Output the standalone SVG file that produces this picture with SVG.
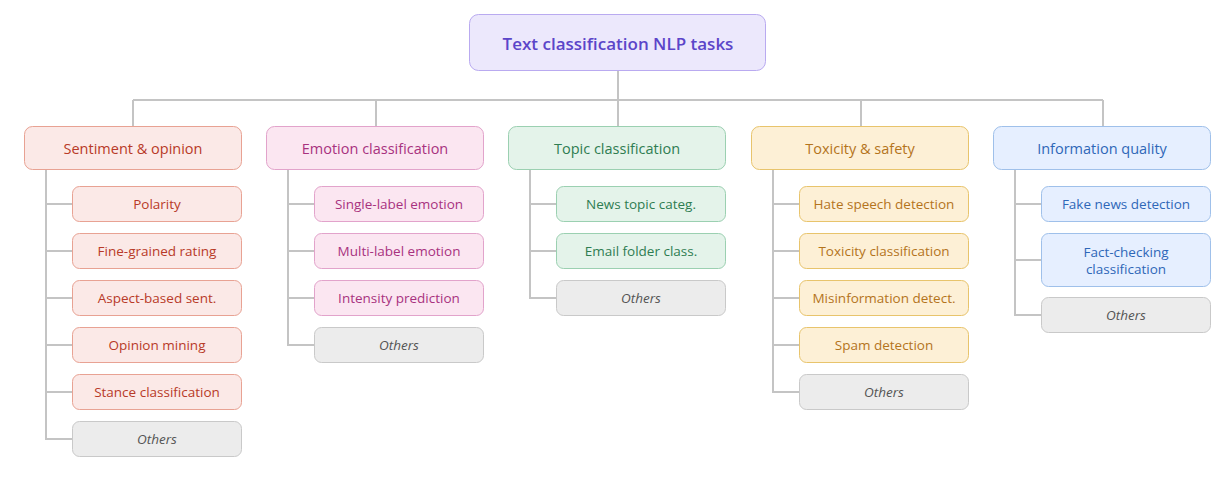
<svg xmlns="http://www.w3.org/2000/svg" width="1228" height="490" viewBox="0 0 1228 490">
<style>
text{font-family:"Open Sans","Noto Sans",sans-serif;text-anchor:middle;dominant-baseline:central}
.ln{fill:none;stroke:#c4c4c4;stroke-width:2}
.c{font-size:14.5px}.k{font-size:13.5px}
.s rect{fill:#fbe9e7;stroke:#e8a293}.s text{fill:#b83a28}
.e rect{fill:#fbe6f1;stroke:#e2a3cb}.e text{fill:#a8327f}
.t rect{fill:#e4f3ea;stroke:#9bd0b1}.t text{fill:#2f7d52}
.x rect{fill:#fdf0d6;stroke:#e8c46c}.x text{fill:#b4741c}
.i rect{fill:#e6efff;stroke:#9fc0ea}.i text{fill:#2f67b8}
.o rect{fill:#ececec;stroke:#c9c9c9}.o text{fill:#555;font-style:italic}
</style>
<g id="connectors" class="ln">
<path d="M618 71V100M133 100H1103M133 100V126M376 100V126M618 100V126M861 100V126M1103 100V126"/>
<path d="M46 169V440M46 204H72M46 251H72M46 298H72M46 345H72M46 392H72M46 439H72"/>
<path d="M288 169V346M288 204H314M288 251H314M288 298H314M288 345H314"/>
<path d="M530 169V299M530 204H556M530 251H556M530 298H556"/>
<path d="M773 169V393M773 204H799M773 251H799M773 298H799M773 345H799M773 392H799"/>
<path d="M1015 169V316M1015 204H1041M1015 260H1041M1015 315H1041"/>
</g>
<g id="root"><rect x="469.5" y="14.5" width="296" height="56" rx="9" fill="#ece8fc" stroke="#b9aaf0"/><text x="618" y="43" font-size="17" font-weight="600" fill="#5b45c9">Text classification NLP tasks</text></g>
<g id="sentiment" class="s"><rect x="24.5" y="126.5" width="217" height="43" rx="8"/><text class="c" x="133" y="148">Sentiment &amp; opinion</text></g>
<g id="polarity" class="s"><rect x="72.5" y="186.5" width="169" height="35" rx="7"/><text class="k" x="157" y="204">Polarity</text></g>
<g id="fine" class="s"><rect x="72.5" y="233.5" width="169" height="35" rx="7"/><text class="k" x="157" y="251">Fine-grained rating</text></g>
<g id="aspect" class="s"><rect x="72.5" y="280.5" width="169" height="35" rx="7"/><text class="k" x="157" y="298">Aspect-based sent.</text></g>
<g id="opinion" class="s"><rect x="72.5" y="327.5" width="169" height="35" rx="7"/><text class="k" x="157" y="345">Opinion mining</text></g>
<g id="stance" class="s"><rect x="72.5" y="374.5" width="169" height="35" rx="7"/><text class="k" x="157" y="392">Stance classification</text></g>
<g id="s-others" class="o"><rect x="72.5" y="421.5" width="169" height="35" rx="7"/><text class="k" x="157" y="439">Others</text></g>
<g id="emotion" class="e"><rect x="266.5" y="126.5" width="217" height="43" rx="8"/><text class="c" x="375" y="148">Emotion classification</text></g>
<g id="single" class="e"><rect x="314.5" y="186.5" width="169" height="35" rx="7"/><text class="k" x="399" y="204">Single-label emotion</text></g>
<g id="multi" class="e"><rect x="314.5" y="233.5" width="169" height="35" rx="7"/><text class="k" x="399" y="251">Multi-label emotion</text></g>
<g id="intensity" class="e"><rect x="314.5" y="280.5" width="169" height="35" rx="7"/><text class="k" x="399" y="298">Intensity prediction</text></g>
<g id="e-others" class="o"><rect x="314.5" y="327.5" width="169" height="35" rx="7"/><text class="k" x="399" y="345">Others</text></g>
<g id="topic" class="t"><rect x="508.5" y="126.5" width="217" height="43" rx="8"/><text class="c" x="617" y="148">Topic classification</text></g>
<g id="news" class="t"><rect x="556.5" y="186.5" width="169" height="35" rx="7"/><text class="k" x="641" y="204">News topic categ.</text></g>
<g id="email" class="t"><rect x="556.5" y="233.5" width="169" height="35" rx="7"/><text class="k" x="641" y="251">Email folder class.</text></g>
<g id="t-others" class="o"><rect x="556.5" y="280.5" width="169" height="35" rx="7"/><text class="k" x="641" y="298">Others</text></g>
<g id="toxicity" class="x"><rect x="751.5" y="126.5" width="217" height="43" rx="8"/><text class="c" x="860" y="148">Toxicity &amp; safety</text></g>
<g id="hate" class="x"><rect x="799.5" y="186.5" width="169" height="35" rx="7"/><text class="k" x="884" y="204">Hate speech detection</text></g>
<g id="toxcls" class="x"><rect x="799.5" y="233.5" width="169" height="35" rx="7"/><text class="k" x="884" y="251">Toxicity classification</text></g>
<g id="misinfo" class="x"><rect x="799.5" y="280.5" width="169" height="35" rx="7"/><text class="k" x="884" y="298">Misinformation detect.</text></g>
<g id="spam" class="x"><rect x="799.5" y="327.5" width="169" height="35" rx="7"/><text class="k" x="884" y="345">Spam detection</text></g>
<g id="x-others" class="o"><rect x="799.5" y="374.5" width="169" height="35" rx="7"/><text class="k" x="884" y="392">Others</text></g>
<g id="info" class="i"><rect x="993.5" y="126.5" width="217" height="43" rx="8"/><text class="c" x="1102" y="148">Information quality</text></g>
<g id="fake" class="i"><rect x="1041.5" y="186.5" width="169" height="35" rx="7"/><text class="k" x="1126" y="204">Fake news detection</text></g>
<g id="fact" class="i"><rect x="1041.5" y="233.5" width="169" height="53" rx="7"/><text class="k" x="1126" y="252">Fact-checking</text><text class="k" x="1126" y="269">classification</text></g>
<g id="i-others" class="o"><rect x="1041.5" y="297.5" width="169" height="35" rx="7"/><text class="k" x="1126" y="315">Others</text></g>
</svg>
